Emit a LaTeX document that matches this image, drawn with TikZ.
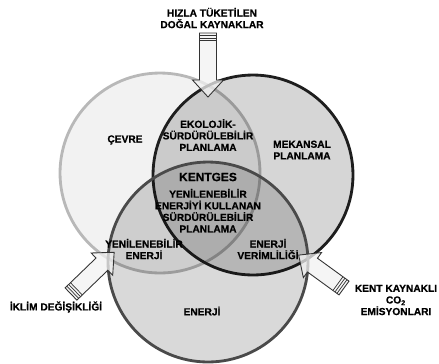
\documentclass[tikz,border=0pt]{standalone}
\usepackage{fontspec}
\setmainfont{Liberation Sans}
\newfontfamily\boldsans[FakeBold=0.6]{Liberation Sans Bold}
\usepackage{xcolor}
\usepackage{tikz}
\usetikzlibrary{positioning}

\definecolor{cevreline}{HTML}{B8B8B8}
\definecolor{mekanline}{HTML}{1E1E1E}
\definecolor{enerline}{HTML}{4A4A4A}
\definecolor{arrowfill}{HTML}{F2F2F2}

\begin{document}
\begin{tikzpicture}[
  x=0.02cm, y=-0.02cm,
  set/.style={circle, minimum size=4cm, inner sep=0pt, line width=1.6pt},
  lbl/.style={font=\boldsans\fontsize{5.8}{6.6}\selectfont, align=center, inner sep=1pt},
  big/.style={font=\boldsans\fontsize{6.8}{8}\selectfont, inner sep=1pt},
  arrowbody/.style={draw=black!80, fill=arrowfill, fill opacity=0.75, line width=0.5pt, line join=miter},
  stripe/.style={draw=black!80, line width=0.4pt},
  fatarrow/.pic={
    \path[arrowbody] (0,-8.5) -- (#1-17,-8.5) -- (#1-17,-15.5) -- (#1,0)
          -- (#1-17,15.5) -- (#1-17,8.5) -- (0,8.5) -- cycle;
    \foreach \s in {2.5,5,7.5} \draw[stripe] (\s,-8.5) -- (\s,8.5);
  }
]
  \useasboundingbox (0,0) rectangle (439,363);

  % The three sets
  \node[set, draw=cevreline, fill=black, fill opacity=0.05] (cevre) at (160,173) {};
  \node[set, draw=mekanline, fill=black, fill opacity=0.16] (mekan) at (253,175) {};
  \node[set, draw=enerline,  fill=black, fill opacity=0.15] (enerji) at (208,262) {};

  % Pressures from outside
  \pic[rotate=-90] (hizla)  at (208,33)  {fatarrow=64};
  \pic[rotate=44]  (iklim)  at (71,294)  {fatarrow=60};
  \pic[rotate=144] (kent)   at (344,288) {fatarrow=56};

  % Set labels
  \node[lbl] (cevrelbl)  at (125,140) {ÇEVRE};
  \node[lbl] (mekanlbl)  at (302,150) {MEKANSAL\\PLANLAMA};
  \node[lbl] (enerjilbl) at (202,311) {ENERJİ};

  % Overlaps
  \node[lbl] (ekolojik) at (208,135) {EKOLOJİK-\\SÜRDÜRÜLEBİLİR\\PLANLAMA};
  \node[lbl] (yenilen)  at (144,249) {YENİLENEBİLİR\\ENERJİ};
  \node[lbl] (verim)    at (268,249) {ENERJİ\\VERİMLİLİĞİ};

  % Centre
  \node[big] (kentges) at (208,177) {KENTGES};
  \node[lbl, below=2pt of kentges] (merkez)
        {YENİLENEBİLİR\\ENERJİYİ KULLANAN\\SÜRDÜRÜLEBİLİR\\PLANLAMA};

  % Arrow labels
  \node[lbl] (hizlalbl) at (212,18)  {HIZLA TÜKETİLEN\\DOĞAL KAYNAKLAR};
  \node[lbl] (iklimlbl) at (56,307)  {İKLİM DEĞİŞİKLİĞİ};
  \node[lbl] (kentlbl)  at (396,300) {KENT KAYNAKLI\\CO\textsubscript{2}\\EMİSYONLARI};

\end{tikzpicture}
\end{document}
